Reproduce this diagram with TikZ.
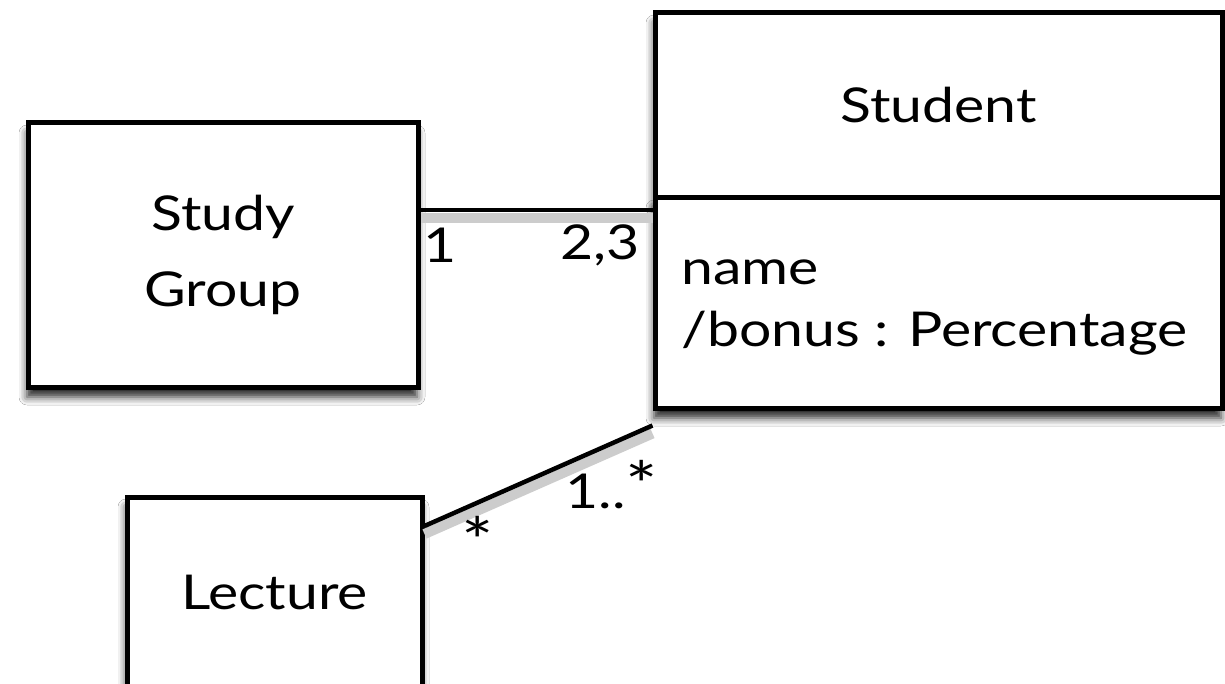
\documentclass[tikz,border=0pt]{standalone}
\usepackage{fontspec}
\setmainfont{Lato}[FakeStretch=1.19]
\usetikzlibrary{shadows.blur}
\newcommand{\bigstar}{{\fontsize{64}{50}\selectfont *}}
\tikzset{
  umlbox/.style={draw=black, line width=5pt, fill=white, rectangle, inner sep=0pt,
    blur shadow={shadow xshift=-1pt, shadow yshift=-10pt, shadow blur radius=8pt, shadow opacity=85}},
  umltext/.style={font=\fontsize{48}{76}\selectfont},
  assoc/.style={draw=black, line width=4.5pt},
  assocshadow/.style={draw=black!20, line width=10pt},
  mult/.style={font=\fontsize{48}{50}\selectfont, inner sep=0pt}
}
\begin{document}
\begin{tikzpicture}[x=1pt,y=1pt]
\useasboundingbox (0,0) rectangle (1225,-684);
\fill[white] (0,0) rectangle (1225,-684);
\clip (0,0) rectangle (1225,-684);
% boxes
\node[umlbox, umltext, minimum width=390pt, minimum height=264pt, align=center] (sg) at (223,-255) {Study\\Group};
\node[umlbox, umltext, minimum width=295pt, minimum height=190pt] (lec) at (274.5,-592) {Lecture};
\node[umlbox, umltext, minimum width=567pt, minimum height=185pt] (sh) at (938.5,-105.5) {Student};
\node[umlbox, minimum width=567pt, minimum height=210pt] (sa) at (938.5,-303) {};
\node[anchor=west, align=left, inner sep=0pt, font=\fontsize{48}{62}\selectfont] (attrs) at (681,-308) {name\\/bonus : Percentage};
% association shadows
\coordinate (lineend) at ([yshift=-15pt]sa.south west);
\draw[assocshadow] ([yshift=37pt]sg.east) -- ([yshift=-8pt]sa.west |- 0,-210);
\draw[assocshadow] ([yshift=58pt]lec.east) -- ([yshift=-8pt]lineend);
% associations
\draw[assoc] ([yshift=45pt]sg.east) -- (sa.west |- 0,-210);
\draw[assoc] ([yshift=66pt]lec.east) -- (lineend);
% multiplicities
\node[mult] (m1) at (440,-245) {1};
\node[mult] (m23) at (600,-245) {2,3};
\node[mult] (mstar) at (478,-540) {\bigstar};
\node[mult] (m1s) at (612,-485) {1..\bigstar};
\end{tikzpicture}
\end{document}
